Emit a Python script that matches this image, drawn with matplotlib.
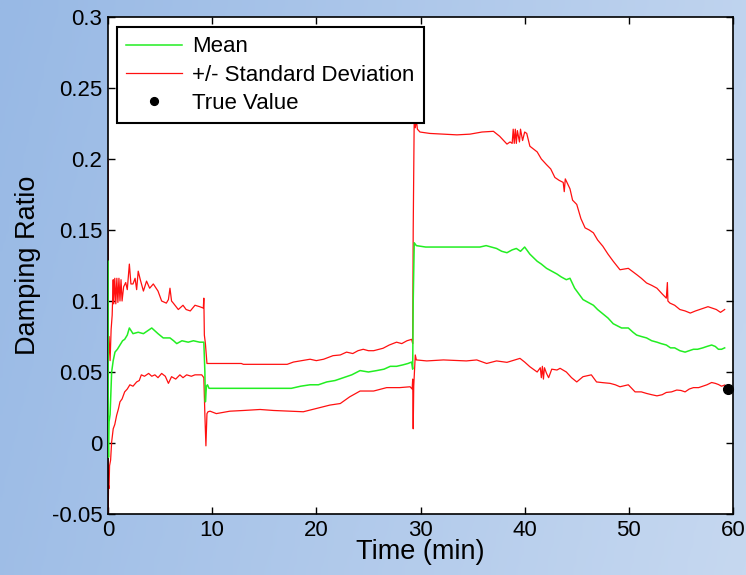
import numpy as np
import matplotlib
matplotlib.use("Agg")
import matplotlib.pyplot as plt
from matplotlib.colors import LinearSegmentedColormap

plt.rcParams['font.family'] = ['Liberation Sans', 'DejaVu Sans']

# ---------------- data ----------------
t_mean = [0, 0.02, 0.05, 0.1, 0.2, 0.35, 0.5, 0.67, 0.9, 1.15, 1.4, 1.6, 1.85, 2.05, 2.4, 2.9,
          3.4, 3.8, 4.2, 4.8, 5.3, 5.95, 6.3, 6.6, 7.1, 7.7, 8.2, 8.8, 9.2, 9.3, 9.35, 9.45, 9.55,
          9.7, 12, 15, 17.6, 18.5, 19.4, 20.2, 21, 21.8, 22.6, 23.4, 24.2, 25, 25.8, 26.5, 27.1,
          27.7, 28.3, 28.8, 29.15, 29.25, 29.3, 29.4, 29.6, 30.5, 33, 35.7, 36.3, 36.8, 37.3,
          37.8, 38.3, 38.8, 39.2, 39.6, 40, 40.5, 41.2, 41.6, 42.1, 42.6, 43.1, 43.5, 44, 44.35,
          44.8, 45.2, 45.6, 46.1, 46.6, 47, 47.5, 48, 48.5, 49.3, 49.95, 50.4, 50.75, 51.2, 51.7,
          52.2, 52.7, 53.1, 53.6, 54.0, 54.4, 54.9, 55.4, 55.8, 56.2, 56.6, 57.1, 57.5, 57.95,
          58.3, 58.6, 58.9, 59.2]
mean_vals = [0.128, 0.0, -0.01, 0.015, 0.02, 0.05, 0.058, 0.064, 0.066, 0.069, 0.072, 0.073,
             0.076, 0.081, 0.077, 0.078, 0.077, 0.079, 0.081, 0.077, 0.074, 0.074, 0.072, 0.070,
             0.072, 0.071, 0.072, 0.071, 0.071, 0.05, 0.029, 0.040, 0.041, 0.0385, 0.0385,
             0.0385, 0.0385, 0.040, 0.041, 0.041, 0.043, 0.044, 0.046, 0.048, 0.051, 0.050,
             0.051, 0.052, 0.054, 0.054, 0.055, 0.056, 0.057, 0.052, 0.10, 0.141, 0.139, 0.138,
             0.138, 0.138, 0.139, 0.138, 0.137, 0.135, 0.134, 0.136, 0.137, 0.135, 0.138, 0.133,
             0.128, 0.126, 0.123, 0.121, 0.119, 0.117, 0.115, 0.116, 0.109, 0.105, 0.101, 0.099,
             0.097, 0.094, 0.091, 0.088, 0.084, 0.081, 0.081, 0.078, 0.076, 0.075, 0.074, 0.072,
             0.071, 0.070, 0.069, 0.067, 0.067, 0.065, 0.064, 0.065, 0.066, 0.066, 0.067, 0.068,
             0.069, 0.068, 0.066, 0.066, 0.067]

t_upper = [0, 0.03, 0.1, 0.2, 0.3, 0.4, 0.5, 0.55, 0.65, 0.75, 0.85, 0.95, 1.05, 1.15, 1.25,
           1.35, 1.5, 1.7, 1.85, 2.05, 2.2, 2.4, 2.6, 2.75, 2.9, 3.1, 3.4, 3.7, 4.0, 4.35, 4.8,
           5.15, 5.6, 5.8, 5.95, 6.1, 6.27, 6.75, 7.2, 7.5, 7.9, 8.35, 8.8, 9.15, 9.2, 9.25,
           9.35, 9.5, 12.8, 13.0, 17.2, 17.8, 18.6, 19.4, 20.0, 20.7, 21.6, 22.3, 22.9, 23.5,
           24.0, 24.5, 25.0, 25.5, 26.4, 27.0, 27.7, 28.2, 28.7, 29.15, 29.25, 29.3, 29.4, 29.5,
           29.6, 29.7, 29.95, 30.9, 32.2, 33.5, 34.75, 35.9, 37, 37.6, 38.3, 38.6, 38.8, 38.9,
           39.0, 39.1, 39.2, 39.3, 39.5, 39.6, 39.8, 40, 40.2, 40.5, 41.2, 41.6, 42.1, 42.5,
           42.9, 43.3, 43.7, 43.8, 43.9, 44.35, 44.6, 45, 45.4, 45.8, 46.2, 46.6, 47, 47.5, 48,
           48.5, 49.15, 49.95, 50.75, 51.2, 51.7, 52.2, 52.7, 53.2, 53.6, 53.7, 53.75, 53.95,
           54.4, 54.9, 55.4, 55.9, 56.4, 56.8, 57.2, 57.6, 58.0, 58.4, 58.8, 59.2]
upper_vals = [0.20, 0.06, 0.075, 0.058, 0.08, 0.09, 0.115, 0.098, 0.116, 0.098, 0.116, 0.099,
              0.116, 0.100, 0.115, 0.100, 0.110, 0.113, 0.108, 0.126, 0.112, 0.112, 0.116,
              0.108, 0.121, 0.115, 0.107, 0.114, 0.109, 0.112, 0.107, 0.100, 0.0985, 0.101,
              0.109, 0.100, 0.0985, 0.094, 0.097, 0.094, 0.093, 0.097, 0.096, 0.095, 0.102,
              0.076, 0.070, 0.056, 0.056, 0.0554, 0.0554, 0.057, 0.058, 0.059, 0.058, 0.059,
              0.0615, 0.062, 0.064, 0.063, 0.065, 0.066, 0.065, 0.065, 0.0667, 0.069, 0.071,
              0.070, 0.072, 0.073, 0.070, 0.15, 0.232, 0.222, 0.228, 0.221, 0.219, 0.218,
              0.2175, 0.217, 0.2175, 0.219, 0.2195, 0.216, 0.2105, 0.212, 0.211, 0.221, 0.211,
              0.221, 0.211, 0.220, 0.212, 0.221, 0.213, 0.219, 0.218, 0.209, 0.205, 0.200,
              0.196, 0.193, 0.187, 0.185, 0.1835, 0.177, 0.186, 0.179, 0.171, 0.168, 0.158,
              0.1515, 0.150, 0.148, 0.143, 0.1386, 0.133, 0.128, 0.122, 0.123, 0.1186, 0.116,
              0.1127, 0.111, 0.109, 0.105, 0.102, 0.113, 0.100, 0.0985, 0.097, 0.094, 0.093,
              0.0915, 0.093, 0.094, 0.095, 0.096, 0.095, 0.094, 0.092, 0.094]

t_lower = [0, 0.02, 0.05, 0.1, 0.15, 0.25, 0.35, 0.5, 0.65, 0.83, 1.0, 1.15, 1.35, 1.6, 1.85,
           2.1, 2.4, 2.75, 3.0, 3.2, 3.5, 3.9, 4.2, 4.5, 4.8, 5.15, 5.5, 5.8, 6.1, 6.5, 6.9,
           7.2, 7.55, 8.0, 8.35, 8.7, 9.0, 9.2, 9.3, 9.4, 9.5, 9.6, 9.8, 10.4, 11.7, 13, 14.6,
           15.9, 17.5, 18.75, 20, 21.3, 22.3, 23.2, 24.2, 25.5, 26.75, 28, 29, 29.2, 29.25,
           29.3, 29.35, 29.5, 29.6, 30.6, 32.2, 34.4, 35.4, 36.35, 37.3, 38.3, 39.55, 40.0,
           40.5, 41.2, 41.5, 41.6, 41.7, 41.8, 41.9, 42.1, 42.3, 42.6, 43.1, 43.4, 44, 44.5,
           45, 45.6, 46.4, 46.9, 47.5, 48.2, 48.7, 49.15, 49.95, 50.6, 51.2, 51.7, 52.2, 52.7,
           53.2, 53.6, 54.1, 54.6, 55.0, 55.4, 55.8, 56.2, 56.7, 57.1, 57.5, 57.95, 58.3, 58.6,
           58.9, 59.2]
lower_vals = [0.06, -0.049, -0.03, -0.032, -0.016, -0.012, 0.0007, 0.010, 0.013, 0.0195,
              0.024, 0.029, 0.031, 0.036, 0.038, 0.041, 0.040, 0.043, 0.044, 0.048, 0.047,
              0.049, 0.047, 0.048, 0.046, 0.049, 0.047, 0.042, 0.0467, 0.045, 0.048, 0.046,
              0.048, 0.047, 0.048, 0.048, 0.048, 0.046, 0.020, -0.002, 0.0207, 0.022, 0.0224,
              0.0207, 0.0224, 0.0229, 0.0236, 0.0229, 0.0224, 0.022, 0.0243, 0.0267, 0.0278,
              0.0325, 0.0366, 0.0366, 0.039, 0.039, 0.0396, 0.038, 0.045, 0.010, 0.040, 0.062,
              0.0585, 0.0578, 0.0585, 0.0578, 0.0585, 0.056, 0.0578, 0.0568, 0.0596, 0.057,
              0.0537, 0.050, 0.053, 0.046, 0.054, 0.045, 0.053, 0.049, 0.046, 0.052, 0.0514,
              0.0526, 0.050, 0.046, 0.043, 0.0467, 0.048, 0.043, 0.0425, 0.042, 0.041, 0.0396,
              0.041, 0.036, 0.036, 0.0349, 0.034, 0.0332, 0.034, 0.0356, 0.036, 0.0373, 0.037,
              0.036, 0.038, 0.039, 0.039, 0.040, 0.041, 0.0426, 0.042, 0.0412, 0.040, 0.0408]

true_time = [59.5]
true_value = [0.038]

x_ticks = [0, 10, 20, 30, 40, 50, 60]
y_ticks = [-0.05, 0, 0.05, 0.1, 0.15, 0.2, 0.25, 0.3]
y_ticklabels = ['-0.05', '0', '0.05', '0.1', '0.15', '0.2', '0.25', '0.3']

# ---------------- figure ----------------
fig = plt.figure(figsize=(7.46, 5.75), dpi=100)

# blue gradient background
bg = fig.add_axes([0, 0, 1, 1], zorder=-10)
bg.set_axis_off()
cmap = LinearSegmentedColormap.from_list('bg', ['#98b9e5', '#c6d8f0'])
gx = np.linspace(0, 1, 256)
gy = np.linspace(0, 1, 64)
G = 0.85 * gx[None, :] + 0.15 * gy[:, None]
bg.imshow(G, cmap=cmap, aspect='auto', extent=[0, 1, 0, 1], origin='upper')

ax = fig.add_axes([108 / 746, 1 - 514 / 575, 625 / 746, 497 / 575])
ax.set_facecolor('white')

ax.plot(t_mean, mean_vals, color='#22ee22', lw=1.1, label='Mean', zorder=3)
ax.plot(t_upper, upper_vals, color='#ff1010', lw=0.9, label='+/- Standard Deviation', zorder=2)
ax.plot(t_lower, lower_vals, color='#ff1010', lw=0.9, zorder=2)
ax.plot(true_time, true_value, 'o', color='black', ms=7, label='True Value', zorder=4,
        clip_on=False)

ax.set_xlim(0, 60)
ax.set_ylim(-0.05, 0.3)
ax.set_xticks(x_ticks)
ax.set_yticks(y_ticks)
ax.set_yticklabels(y_ticklabels)
ax.tick_params(direction='in', top=True, right=True, length=5, width=1,
               labelsize=16, pad=4, colors='black')
for s in ax.spines.values():
    s.set_linewidth(1.2)
    s.set_color('black')

ax.set_xlabel('Time (min)', fontsize=19.5, labelpad=-1)
ax.set_ylabel('Damping Ratio', fontsize=19.5, labelpad=8)

leg = ax.legend(loc='upper left', bbox_to_anchor=(9 / 625, 1 - 10 / 497), borderaxespad=0,
                fontsize=16, frameon=True, fancybox=False, framealpha=1,
                handlelength=2.5, handletextpad=0.45, labelspacing=0.33,
                borderpad=0.42, markerscale=0.8)
leg.get_frame().set_edgecolor('black')
leg.get_frame().set_linewidth(1.5)

fig.savefig('out.png', dpi=100)
